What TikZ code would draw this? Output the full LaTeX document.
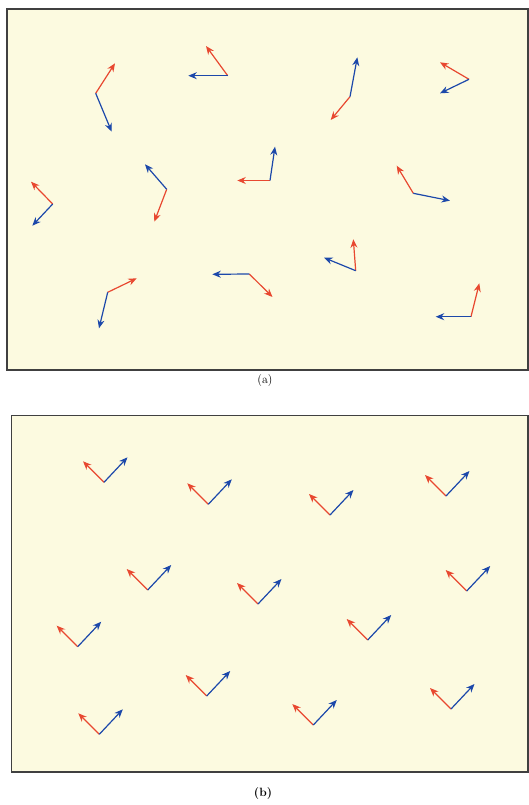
\documentclass[tikz,border=0pt]{standalone}
\usetikzlibrary{arrows.meta}

\definecolor{paper}{RGB}{252,250,224}
\definecolor{vecred}{RGB}{232,72,48}
\definecolor{vecblue}{RGB}{28,72,170}

\tikzset{
  frame/.style={draw=black!75, fill=paper, line width=1.6pt},
  redvec/.style={vecred, line width=1.2pt, -{Stealth[length=8.5pt, width=7pt]}},
  bluevec/.style={vecblue, line width=1.2pt, -{Stealth[length=8.5pt, width=7pt]}}
}

\begin{document}
\begin{tikzpicture}[x=1pt, y=-1pt]
\path (0,0) rectangle (529,805);
% (a) random orientations
\draw[frame] (7,9) rectangle (528,370);
\draw[redvec] (95.7,93.3) -- (115,63.3);
\draw[bluevec] (95.7,93.3) -- (111.7,131.7);
\draw[redvec] (227.7,75.7) -- (206,46);
\draw[bluevec] (227.7,75.7) -- (188.3,75.7);
\draw[redvec] (350,96.7) -- (330.7,120);
\draw[bluevec] (350,96.7) -- (357.3,57.3);
\draw[redvec] (469,79.3) -- (440,62.3);
\draw[bluevec] (469,79.3) -- (440,93.3);
\draw[redvec] (52.7,204) -- (31,181.7);
\draw[bluevec] (52.7,204) -- (32.3,225.7);
\draw[redvec] (166.7,189.3) -- (154.3,221.7);
\draw[bluevec] (166.7,189.3) -- (145,164.3);
\draw[redvec] (270,180.5) -- (237.3,180.5);
\draw[bluevec] (270,180.5) -- (275,146.7);
\draw[redvec] (413.3,193.3) -- (396.7,165.7);
\draw[bluevec] (413.3,193.3) -- (450,200.7);
\draw[redvec] (107.7,292.3) -- (136.7,278.3);
\draw[bluevec] (107.7,292.3) -- (99,328.3);
\draw[redvec] (249.3,274) -- (272.5,297);
\draw[bluevec] (249.3,274) -- (212.3,274.3);
\draw[redvec] (355.7,270.7) -- (353.3,239.3);
\draw[bluevec] (355.7,270.7) -- (324,257.7);
\draw[redvec] (471,316.7) -- (479.3,283.3);
\draw[bluevec] (471,316.7) -- (435.7,316.7);
\node[inner sep=0pt] at (265,381) {\large (a)};
% (b) all aligned
\draw[frame] (11.5,415.5) rectangle (528,772);
\draw[redvec] (104,482.3) -- ++(-21,-21);
\draw[bluevec] (104,482.3) -- ++(23.5,-25);
\draw[redvec] (208.3,504.3) -- ++(-21,-21);
\draw[bluevec] (208.3,504.3) -- ++(23.5,-25);
\draw[redvec] (330,515) -- ++(-21,-21);
\draw[bluevec] (330,515) -- ++(23.5,-25);
\draw[redvec] (446,496) -- ++(-21,-21);
\draw[bluevec] (446,496) -- ++(23.5,-25);
\draw[redvec] (147.7,590) -- ++(-21,-21);
\draw[bluevec] (147.7,590) -- ++(23.5,-25);
\draw[redvec] (258,604) -- ++(-21,-21);
\draw[bluevec] (258,604) -- ++(23.5,-25);
\draw[redvec] (466.7,591) -- ++(-21,-21);
\draw[bluevec] (466.7,591) -- ++(23.5,-25);
\draw[redvec] (77.7,646.7) -- ++(-21,-21);
\draw[bluevec] (77.7,646.7) -- ++(23.5,-25);
\draw[redvec] (367.7,640) -- ++(-21,-21);
\draw[bluevec] (367.7,640) -- ++(23.5,-25);
\draw[redvec] (206.7,696) -- ++(-21,-21);
\draw[bluevec] (206.7,696) -- ++(23.5,-25);
\draw[redvec] (451,709) -- ++(-21,-21);
\draw[bluevec] (451,709) -- ++(23.5,-25);
\draw[redvec] (99.3,734.3) -- ++(-21,-21);
\draw[bluevec] (99.3,734.3) -- ++(23.5,-25);
\draw[redvec] (313.3,725) -- ++(-21,-21);
\draw[bluevec] (313.3,725) -- ++(23.5,-25);
\node[inner sep=0pt] at (263,793) {\large\bfseries (b)};
\end{tikzpicture}
\end{document}
